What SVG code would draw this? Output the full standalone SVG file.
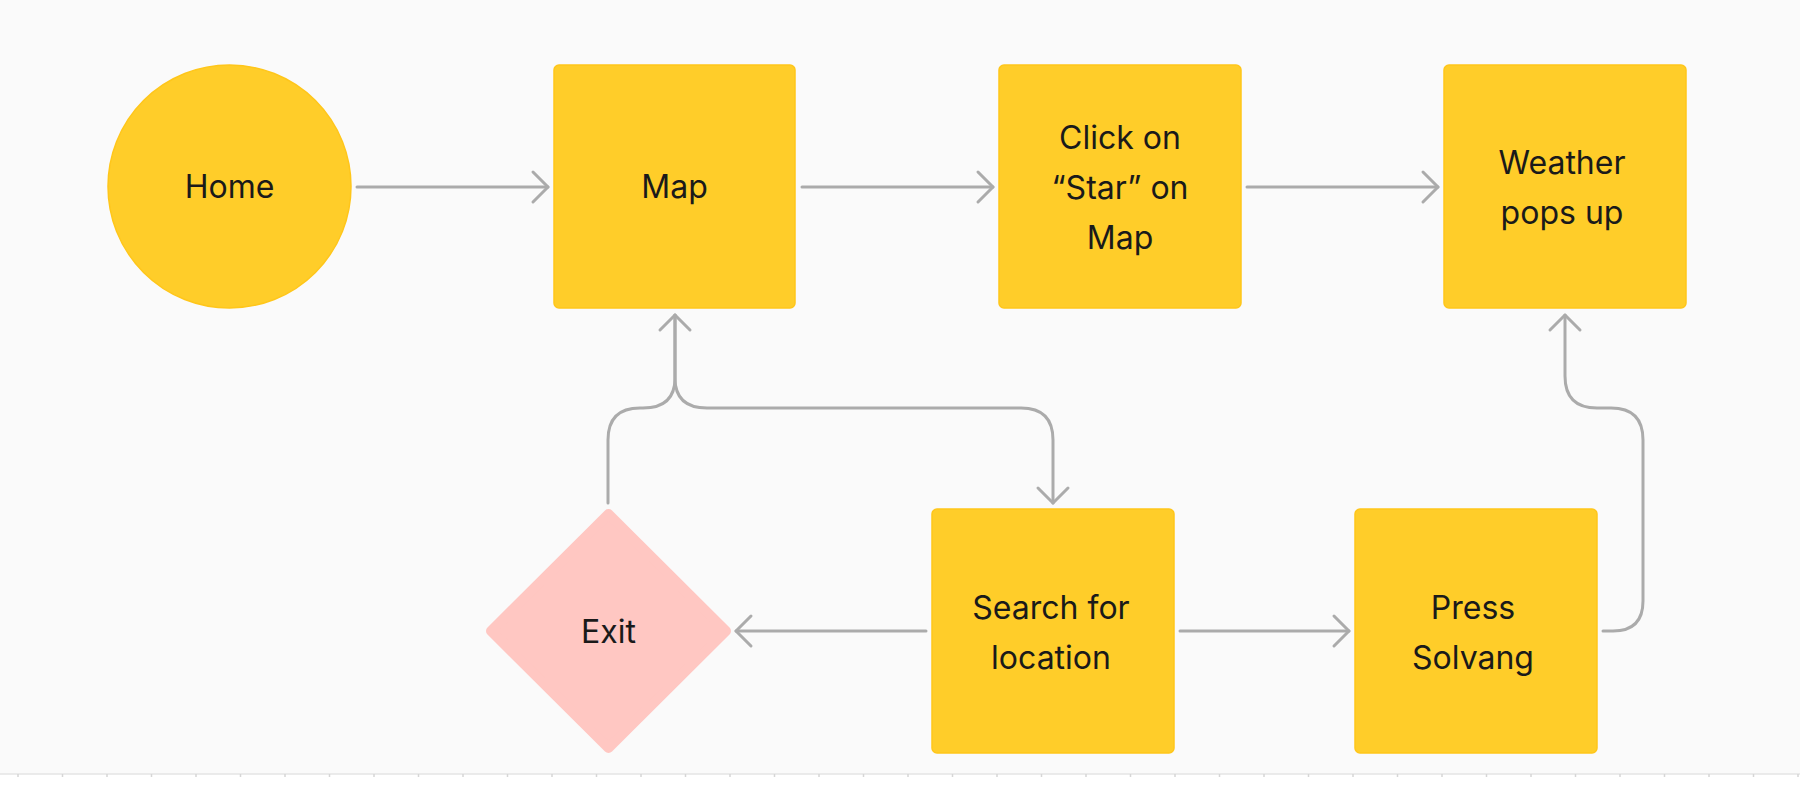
<svg xmlns="http://www.w3.org/2000/svg" width="1800" height="799" viewBox="0 0 1800 799">
<defs>
<style>
.box{fill:#FFCD29;stroke:#FFC61A;stroke-width:1.5}
.exit{fill:#FFC7C2;stroke:#FFC7C2;stroke-width:10;stroke-linejoin:round}
.lbl{font-family:Inter,"Liberation Sans",sans-serif;font-size:32px;font-weight:400;fill:#1A1A1A;text-anchor:middle}
.conn{fill:none;stroke:#ABABAB;stroke-width:3;stroke-linecap:round}
.tick{stroke:#D6D6D6;stroke-width:1.5}
</style>
<marker id="arr" markerUnits="userSpaceOnUse" markerWidth="40" markerHeight="40" viewBox="-20 -20 40 40" refX="0" refY="0" orient="auto">
<path d="M-15,-15 L0,0 L-15,15" fill="none" stroke="#ABABAB" stroke-width="3" stroke-linecap="round" stroke-linejoin="round"/>
</marker>
</defs>
<rect x="0" y="0" width="1800" height="799" fill="#FFFFFF"/>
<rect x="0" y="0" width="1800" height="774" fill="#FAFAFA"/>
<g id="ruler">
<line x1="0" y1="774" x2="1800" y2="774" stroke="#E4E4E4" stroke-width="1.5"/>
<path class="tick" d="M18,774v3M62.5,774v3M107,774v3M151.5,774v3M196,774v3M240.5,774v3M285,774v3M329.5,774v3M374,774v3M418.5,774v3M463,774v3M507.5,774v3M552,774v3M596.5,774v3M641,774v3M685.5,774v3M730,774v3M774.5,774v3M819,774v3M863.5,774v3M908,774v3M952.5,774v3M997,774v3M1041.5,774v3M1086,774v3M1130.5,774v3M1175,774v3M1219.5,774v3M1264,774v3M1308.5,774v3M1353,774v3M1397.5,774v3M1442,774v3M1486.5,774v3M1531,774v3M1575.5,774v3M1620,774v3M1664.5,774v3M1709,774v3M1753.5,774v3M1798,774v3"/>
</g>
<g id="connectors">
<path class="conn" d="M357,187 H548" marker-end="url(#arr)"/>
<path class="conn" d="M802,187 H993" marker-end="url(#arr)"/>
<path class="conn" d="M1247,187 H1438" marker-end="url(#arr)"/>
<path class="conn" d="M926,631 H736" marker-end="url(#arr)"/>
<path class="conn" d="M1180,631 H1349" marker-end="url(#arr)"/>
<path class="conn" d="M1603,631 H1613 Q1643,631 1643,601 V440 Q1643,408 1611,408 H1597 Q1565,408 1565,376 V315" marker-end="url(#arr)"/>
<path class="conn" d="M608,503 V440 Q608,408 640,408 H643 Q675,408 675,378 V315" marker-end="url(#arr)"/>
<path class="conn" d="M675,315 V378 Q675,408 707,408 H1021 Q1053,408 1053,440 V503" marker-end="url(#arr)"/>
</g>
<g id="home">
<circle cx="229.5" cy="186.5" r="121.5" fill="#FFCD29" stroke="#FFC61A" stroke-width="1.5"/>
<text class="lbl" x="229.5" y="198">Home</text>
</g>
<g id="map">
<rect class="box" x="554" y="65" width="241" height="243" rx="5"/>
<text class="lbl" x="674.5" y="198">Map</text>
</g>
<g id="click-star">
<rect class="box" x="999" y="65" width="242" height="243" rx="5"/>
<text class="lbl" x="1120" y="149">Click on</text>
<text class="lbl" x="1120" y="199">“Star” on</text>
<text class="lbl" x="1120" y="249">Map</text>
</g>
<g id="weather">
<rect class="box" x="1444" y="65" width="242" height="243" rx="5"/>
<text class="lbl" x="1562" y="174">Weather</text>
<text class="lbl" x="1562" y="224">pops up</text>
</g>
<g id="search">
<rect class="box" x="932" y="509" width="242" height="244" rx="5"/>
<text class="lbl" x="1051" y="619">Search for</text>
<text class="lbl" x="1051" y="669">location</text>
</g>
<g id="press">
<rect class="box" x="1355" y="509" width="242" height="244" rx="5"/>
<text class="lbl" x="1473" y="619">Press</text>
<text class="lbl" x="1473" y="669">Solvang</text>
</g>
<g id="exit">
<polygon class="exit" points="608.5,514 726,631 608.5,748 491,631"/>
<text class="lbl" x="608.5" y="643">Exit</text>
</g>
</svg>
